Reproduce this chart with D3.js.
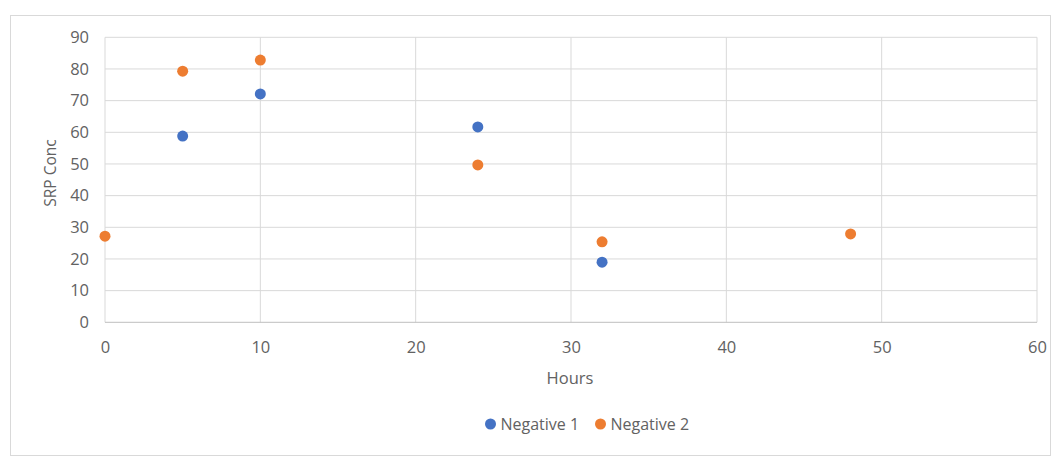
<!DOCTYPE html>
<html>
<head>
<meta charset="utf-8">
<script src="https://cdn.jsdelivr.net/npm/d3@7"></script>
<style>
  body { margin: 0; background: #fff; }
  svg text { font-family: "Open Sans", "Liberation Sans", sans-serif; fill: #626262; }
</style>
</head>
<body>
<svg id="chart" width="1059" height="457"></svg>
<script>
// Sampling times (hours) and SRP concentrations for each series
const hours1 = [5, 10, 24, 32];
const negative1 = [58.8, 72.1, 61.7, 19.0];
const hours2 = [0, 5, 10, 24, 32, 48];
const negative2 = [27.2, 79.3, 82.8, 49.7, 25.4, 27.9];
const xTicks = [0, 10, 20, 30, 40, 50, 60];
const yTicks = [0, 10, 20, 30, 40, 50, 60, 70, 80, 90];
const seriesNames = ["Negative 1", "Negative 2"];
const seriesColors = ["#4472C4", "#ED7D31"];

const svg = d3.select("#chart");
const fontSize = 16.5;

// chart frame
svg.append("rect")
  .attr("x", 10.5).attr("y", 15.5)
  .attr("width", 1040).attr("height", 440)
  .attr("fill", "#fff").attr("stroke", "#d9d9d9");

const plotLeft = 105, plotRight = 1037, plotTop = 37.3, plotBottom = 322.3;
const x = d3.scaleLinear().domain([0, 60]).range([plotLeft, plotRight]);
const y = d3.scaleLinear().domain([0, 90]).range([plotBottom, plotTop]);

// gridlines
svg.append("g").selectAll("line").data(yTicks.filter(d => d > 0)).join("line")
  .attr("x1", plotLeft).attr("x2", plotRight)
  .attr("y1", d => y(d)).attr("y2", d => y(d))
  .attr("stroke", "#d9d9d9").attr("stroke-width", 1);
svg.append("g").selectAll("line").data(xTicks).join("line")
  .attr("x1", d => x(d)).attr("x2", d => x(d))
  .attr("y1", plotTop).attr("y2", plotBottom)
  .attr("stroke", "#d9d9d9").attr("stroke-width", 1);

// x axis line
svg.append("line")
  .attr("x1", plotLeft).attr("x2", plotRight)
  .attr("y1", plotBottom).attr("y2", plotBottom)
  .attr("stroke", "#bfbfbf").attr("stroke-width", 1);

// axes (labels only)
const xAxis = d3.axisBottom(x).tickValues(xTicks).tickSize(0).tickPadding(19);
svg.append("g").attr("transform", `translate(0,${plotBottom})`).call(xAxis)
  .call(g => g.select(".domain").remove())
  .selectAll("text").attr("font-size", fontSize).style("fill", "#626262")
  .style("font-family", "\"Open Sans\", sans-serif");

const yAxis = d3.axisLeft(y).tickValues(yTicks).tickSize(0).tickPadding(16);
svg.append("g").attr("transform", `translate(${plotLeft},0)`).call(yAxis)
  .call(g => g.select(".domain").remove())
  .selectAll("text").attr("font-size", fontSize).style("fill", "#626262")
  .style("font-family", "\"Open Sans\", sans-serif");

// axis titles
svg.append("text")
  .attr("x", 570).attr("y", 384)
  .attr("text-anchor", "middle").attr("font-size", 16.5)
  .text("Hours");
svg.append("text")
  .attr("transform", "translate(56,173) rotate(-90)")
  .attr("text-anchor", "middle").attr("font-size", 15.5)
  .text("SRP Conc");

// points
const series = [
  { xs: hours1, ys: negative1 },
  { xs: hours2, ys: negative2 }
];
series.forEach((s, i) => {
  svg.append("g").selectAll("circle")
    .data(s.xs.map((h, k) => [h, s.ys[k]]))
    .join("circle")
    .attr("cx", d => x(d[0])).attr("cy", d => y(d[1]))
    .attr("r", 5.5).attr("fill", seriesColors[i]);
});

// legend
const legend = svg.append("g").attr("transform", "translate(490.5,424)");
const offsets = [0, 110];
seriesNames.forEach((name, i) => {
  const g = legend.append("g").attr("transform", `translate(${offsets[i]},0)`);
  g.append("circle").attr("cx", 0).attr("cy", 0).attr("r", 5.5).attr("fill", seriesColors[i]);
  g.append("text").attr("x", 10).attr("y", 6).attr("font-size", 16).text(name);
});
</script>
</body>
</html>
